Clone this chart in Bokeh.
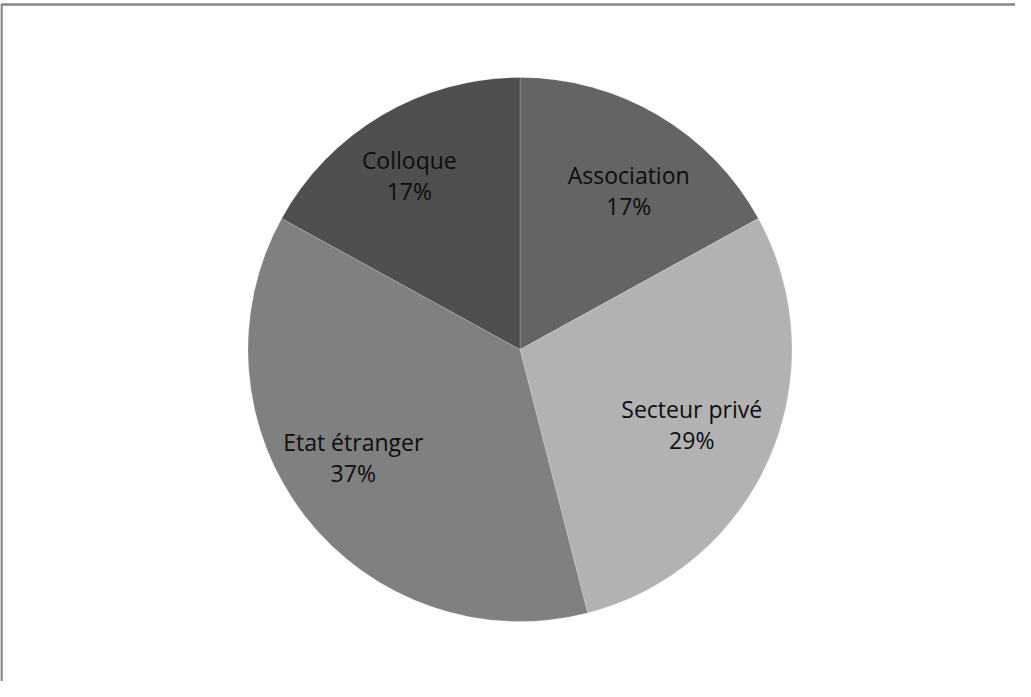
import math
from bokeh.plotting import figure
from bokeh.models import Range1d, ColumnDataSource
from bokeh.core.properties import value
from bokeh.embed import file_html
from bokeh.resources import INLINE

categories = ["Association", "Secteur privé", "Etat étranger", "Colloque"]
shares = [17, 29, 37, 17]
colors = ["#646464", "#b2b2b2", "#808080", "#4f4f4f"]

# label nudges in screen pixels (style only)
nudge_x = [9, -8, -12, -11]
nudge_y = [9, -3, -13, -6]

W, H = 1015, 681
p = figure(width=W, height=H, output_backend="svg", toolbar_location=None,
           x_range=Range1d(0, W), y_range=Range1d(0, H), min_border=0)
p.axis.visible = False
p.grid.visible = False
p.outline_line_color = None
p.background_fill_color = "white"
p.border_fill_color = "white"

# chart-area border (left and top visible in reference)
p.line(x=[1, 1, W + 10], y=[-10, H - 4, H - 4], line_color="#878787", line_width=2.5)

cx, cy, r = 519.5, H - 349, 272
total = float(sum(shares))
starts, ends, mids = [], [], []
a = math.pi / 2
for s in shares:
    da = 2 * math.pi * s / total
    starts.append(a)
    ends.append(a - da)
    mids.append(a - da / 2)
    a -= da

src = ColumnDataSource(dict(start=starts, end=ends, color=colors))
p.wedge(x=cx, y=cy, radius=r, start_angle="end", end_angle="start",
        fill_color="color", line_color="white", line_alpha=0.2, line_width=1,
        source=src)

frac = 0.72
lx = [cx + frac * r * math.cos(m) for m in mids]
ly = [cy + frac * r * math.sin(m) for m in mids]
pct = ["%d%%" % s for s in shares]
lsrc = ColumnDataSource(dict(x=lx, y=ly, name=categories, pct=pct,
                             dx=nudge_x,
                             dy1=[d - 15 for d in nudge_y],
                             dy2=[d + 16 for d in nudge_y]))
p.text(x="x", y="y", text="name", source=lsrc, x_offset="dx", y_offset="dy1",
       text_font=value("Open Sans"), text_font_size="23px", text_color="#0d0d0d",
       text_align="center", text_baseline="middle")
p.text(x="x", y="y", text="pct", source=lsrc, x_offset="dx", y_offset="dy2",
       text_font=value("Open Sans"), text_font_size="23px", text_color="#0d0d0d",
       text_align="center", text_baseline="middle")

open("out.html", "w").write(file_html(p, INLINE))
